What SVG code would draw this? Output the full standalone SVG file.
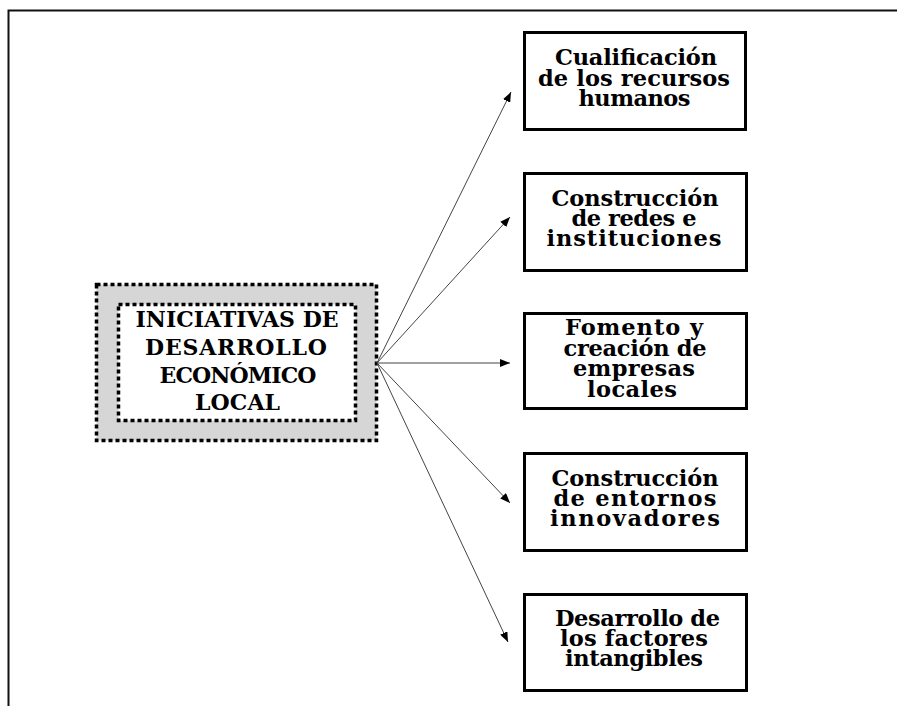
<svg xmlns="http://www.w3.org/2000/svg" width="897" height="706" viewBox="0 0 897 706">
  <style>
    .frame { fill: none; stroke: #111; stroke-width: 2; }
    .dotted { stroke: #000; stroke-width: 3.5; stroke-dasharray: 4 3; }
    .box { fill: #fff; stroke: #000; stroke-width: 3; }
    .lbl { font-family: "DejaVu Serif", "Liberation Serif", serif; font-weight: bold; font-size: 22.5px; fill: #000; text-anchor: middle; }
    .main { font-size: 22px; }
    .link { fill: none; stroke: #444; stroke-width: 1; marker-end: url(#head); }
  </style>
  <defs>
    <marker id="head" markerUnits="userSpaceOnUse" markerWidth="11" markerHeight="8" refX="10" refY="4" orient="auto">
      <path d="M0,0 L10,4 L0,8 Z" fill="#000"/>
    </marker>
  </defs>

  <rect width="897" height="706" fill="#fff"/>
  <!-- page frame: top and left edges -->
  <path class="frame" d="M8.5,706 L8.5,10.5 L897,10.5"/>

  <!-- central node -->
  <g id="iniciativas">
    <rect class="dotted" x="96.5" y="284.5" width="280" height="156" fill="#d6d6d6"/>
    <rect class="dotted" x="118.5" y="304.5" width="237" height="116" fill="#fff"/>
    <text class="lbl main" x="237" y="327" textLength="203" lengthAdjust="spacing">INICIATIVAS DE</text>
    <text class="lbl main" x="236" y="355" textLength="182" lengthAdjust="spacing">DESARROLLO</text>
    <text class="lbl main" x="238" y="382.5" textLength="157" lengthAdjust="spacing">ECONÓMICO</text>
    <text class="lbl main" x="237.5" y="409.5" textLength="85" lengthAdjust="spacing">LOCAL</text>
  </g>

  <!-- connectors -->
  <g id="connectors">
    <line class="link" x1="377" y1="363" x2="511" y2="92"/>
    <line class="link" x1="377" y1="363" x2="510" y2="217"/>
    <line class="link" x1="377" y1="363" x2="510" y2="363"/>
    <line class="link" x1="377" y1="363" x2="510" y2="503"/>
    <line class="link" x1="377" y1="363" x2="508" y2="642"/>
  </g>

  <g id="cualificacion">
    <rect class="box" x="524.5" y="32.5" width="221" height="97"/>
    <text class="lbl" x="636" y="65" textLength="162" lengthAdjust="spacing">Cualificación</text>
    <text class="lbl" x="634" y="85.5" textLength="192" lengthAdjust="spacing">de los recursos</text>
    <text class="lbl" x="634.5" y="105.5" textLength="112" lengthAdjust="spacing">humanos</text>
  </g>

  <g id="redes">
    <rect class="box" x="524.5" y="173.5" width="222" height="97"/>
    <text class="lbl" x="635" y="205.5" textLength="167" lengthAdjust="spacing">Construcción</text>
    <text class="lbl" x="634" y="225.5" textLength="125" lengthAdjust="spacing">de redes e</text>
    <text class="lbl" x="634" y="245.5" textLength="175" lengthAdjust="spacing">instituciones</text>
  </g>

  <g id="empresas">
    <rect class="box" x="524.5" y="313.5" width="222" height="95"/>
    <text class="lbl" x="634" y="335" textLength="138" lengthAdjust="spacing">Fomento y</text>
    <text class="lbl" x="635" y="355.5" textLength="143" lengthAdjust="spacing">creación de</text>
    <text class="lbl" x="634" y="376" textLength="122" lengthAdjust="spacing">empresas</text>
    <text class="lbl" x="632" y="396.5" textLength="90" lengthAdjust="spacing">locales</text>
  </g>

  <g id="entornos">
    <rect class="box" x="524.5" y="453.5" width="222" height="97"/>
    <text class="lbl" x="635" y="485.5" textLength="167" lengthAdjust="spacing">Construcción</text>
    <text class="lbl" x="635" y="505.5" textLength="163" lengthAdjust="spacing">de entornos</text>
    <text class="lbl" x="635" y="525.5" textLength="170" lengthAdjust="spacing">innovadores</text>
  </g>

  <g id="intangibles">
    <rect class="box" x="524.5" y="594.5" width="222" height="96"/>
    <text class="lbl" x="637.5" y="626" textLength="165" lengthAdjust="spacing">Desarrollo de</text>
    <text class="lbl" x="634" y="646" textLength="148" lengthAdjust="spacing">los factores</text>
    <text class="lbl" x="634" y="666" textLength="138" lengthAdjust="spacing">intangibles</text>
  </g>
</svg>
